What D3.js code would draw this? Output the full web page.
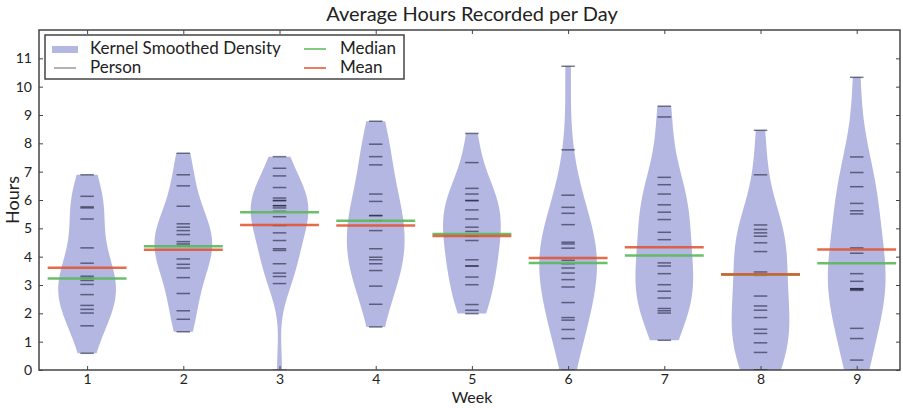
<!DOCTYPE html>
<html>
<head>
<meta charset="utf-8">
<script src="https://cdn.jsdelivr.net/npm/d3@7"></script>
<style>
  body { margin: 0; background: #fff; }
  text { font-family: Lato, "DejaVu Sans", sans-serif; fill: #222; }
</style>
</head>
<body>
<svg width="903" height="408"></svg>
<script>
// hours per person
var week1 = [6.89, 6.13, 5.76, 5.72, 5.33, 4.31, 3.77, 3.31, 3.24, 3.16, 3.02, 2.66, 2.28, 2.14, 2.01, 1.56, 0.59];
var week2 = [7.65, 6.89, 6.50, 5.78, 5.16, 5.04, 4.92, 4.78, 4.53, 4.45, 4.39, 3.92, 3.73, 3.60, 3.26, 2.70, 2.09, 1.79, 1.35];
var week3 = [7.53, 7.12, 6.85, 6.44, 6.07, 5.98, 5.98, 5.80, 5.80, 5.72, 5.60, 5.41, 5.10, 4.84, 4.57, 4.28, 4.22, 3.75, 3.42, 3.30, 3.05, 0.0];
var week4 = [8.78, 7.97, 7.53, 7.24, 6.21, 5.95, 5.45, 5.45, 5.27, 4.92, 4.28, 3.98, 3.89, 3.75, 3.51, 2.96, 2.32, 1.52];
var week5 = [8.35, 7.32, 6.41, 6.21, 5.98, 5.98, 5.65, 5.33, 5.04, 4.89, 4.72, 4.57, 3.89, 3.67, 3.67, 3.28, 3.01, 2.31, 2.11, 1.99];
var week6 = [10.72, 7.77, 6.17, 5.74, 5.53, 5.13, 4.51, 4.45, 4.30, 3.87, 3.75, 3.60, 3.42, 3.19, 2.93, 2.38, 1.85, 1.76, 1.43, 1.11, 0.0];
var week7 = [9.31, 8.93, 6.80, 6.54, 6.21, 5.83, 5.57, 5.31, 4.86, 4.60, 3.78, 3.67, 3.40, 3.01, 2.78, 2.54, 2.17, 2.09, 2.01, 1.05];
var week8 = [8.46, 6.89, 5.12, 4.96, 4.84, 4.72, 4.49, 4.18, 3.46, 3.34, 2.61, 2.26, 2.11, 1.85, 1.44, 1.29, 0.96, 0.62, 0.0, 0.0, 0.0];
var week9 = [10.33, 7.52, 6.97, 6.47, 5.88, 5.62, 5.51, 4.31, 4.12, 3.40, 3.13, 2.87, 2.87, 2.85, 2.81, 1.47, 1.11, 0.35, 0.0];

var weeks = [1, 2, 3, 4, 5, 6, 7, 8, 9];
var persons = [week1, week2, week3, week4, week5, week6, week7, week8, week9];
var medians = [3.23, 4.37, 5.57, 5.27, 4.80, 3.78, 4.04, 3.36, 3.77];
var means = [3.61, 4.24, 5.12, 5.10, 4.73, 3.95, 4.33, 3.38, 4.25];
var yTicks = [0, 1, 2, 3, 4, 5, 6, 7, 8, 9, 10, 11];

var svg = d3.select("svg"),
	plotLeft = 39, plotRight = 900, plotTop = 30, plotBottom = 370;

var x = d3.scaleLinear().domain([0.5, 9.45]).range([plotLeft, plotRight]);
var y = d3.scaleLinear().domain([0, 12]).range([plotBottom, plotTop]);

var violinFill = "#b3b7e2",
	medianColor = "#5cb85a",
	meanColor = "#e2512c";

svg.append("clipPath").attr("id", "plotclip")
	.append("rect")
	.attr("x", plotLeft).attr("y", plotTop)
	.attr("width", plotRight - plotLeft).attr("height", plotBottom - plotTop);

var plot = svg.append("g").attr("clip-path", "url(#plotclip)");

// gaussian kde (scott's rule), cut at data min / max
function kdeProfile(data) {
	var n = data.length,
		sd = d3.deviation(data),
		bw = sd * Math.pow(n, -0.2),
		lo = d3.min(data), hi = d3.max(data),
		pts = [];
	for (var i = 0; i < 100; i++) {
		var v = lo + (hi - lo) * i / 99;
		var dens = d3.sum(data, function (d) {
			var z = (v - d) / bw;
			return Math.exp(-0.5 * z * z);
		}) / (n * bw * Math.sqrt(2 * Math.PI));
		pts.push([v, dens]);
	}
	var mx = d3.max(pts, function (p) { return p[1]; });
	pts.forEach(function (p) { p[1] = 0.3 * p[1] / mx; });
	return pts;
}

weeks.forEach(function (w, i) {
	var prof = kdeProfile(persons[i]);
	var area = d3.area()
		.y(function (p) { return y(p[0]); })
		.x0(function (p) { return x(w - p[1]); })
		.x1(function (p) { return x(w + p[1]); });
	plot.append("path")
		.datum(prof)
		.attr("d", area)
		.attr("fill", violinFill)
		.attr("stroke", "none");

	plot.selectAll(".person" + w)
		.data(persons[i])
		.enter()
		.append("line")
		.attr("x1", x(w - 0.07))
		.attr("x2", x(w + 0.07))
		.attr("y1", function (d) { return y(d); })
		.attr("y2", function (d) { return y(d); })
		.attr("stroke", "#1e2238")
		.attr("stroke-opacity", 0.6)
		.attr("stroke-width", 1.5);
});

plot.selectAll(".median")
	.data(medians)
	.enter()
	.append("line")
	.attr("x1", function (d, i) { return x(weeks[i] - 0.41); })
	.attr("x2", function (d, i) { return x(weeks[i] + 0.41); })
	.attr("y1", function (d) { return y(d); })
	.attr("y2", function (d) { return y(d); })
	.attr("stroke", medianColor)
	.attr("stroke-width", 2.5)
	.attr("stroke-opacity", 0.9);

plot.selectAll(".mean")
	.data(means)
	.enter()
	.append("line")
	.attr("x1", function (d, i) { return x(weeks[i] - 0.41); })
	.attr("x2", function (d, i) { return x(weeks[i] + 0.41); })
	.attr("y1", function (d) { return y(d); })
	.attr("y2", function (d) { return y(d); })
	.attr("stroke", meanColor)
	.attr("stroke-width", 2.5)
	.attr("stroke-opacity", 0.85);

// axes, ticks inside on all four sides
var axisColor = "#444";
svg.append("g")
	.attr("transform", "translate(" + plotLeft + ",0)")
	.call(d3.axisLeft(y).tickValues(yTicks).tickSize(-4).tickPadding(7))
	.call(function (g) { g.select(".domain").remove(); })
	.call(function (g) { g.selectAll("line").attr("stroke", axisColor); })
	.call(function (g) { g.selectAll("text").attr("font-size", 14).attr("font-family", "Lato"); });

svg.append("g")
	.attr("transform", "translate(" + plotRight + ",0)")
	.call(d3.axisRight(y).tickValues(yTicks).tickSize(-4).tickFormat(""))
	.call(function (g) { g.select(".domain").remove(); })
	.call(function (g) { g.selectAll("line").attr("stroke", axisColor); });

svg.append("g")
	.attr("transform", "translate(0," + plotBottom + ")")
	.call(d3.axisBottom(x).tickValues(weeks).tickSize(-4).tickPadding(4).tickFormat(d3.format("d")))
	.call(function (g) { g.select(".domain").remove(); })
	.call(function (g) { g.selectAll("line").attr("stroke", axisColor); })
	.call(function (g) { g.selectAll("text").attr("font-size", 14).attr("font-family", "Lato"); });

svg.append("g")
	.attr("transform", "translate(0," + plotTop + ")")
	.call(d3.axisTop(x).tickValues(weeks).tickSize(-4).tickFormat(""))
	.call(function (g) { g.select(".domain").remove(); })
	.call(function (g) { g.selectAll("line").attr("stroke", axisColor); });

svg.append("rect")
	.attr("x", plotLeft).attr("y", plotTop)
	.attr("width", plotRight - plotLeft).attr("height", plotBottom - plotTop)
	.attr("fill", "none")
	.attr("stroke", axisColor)
	.attr("stroke-width", 1.5);

// titles
svg.append("text")
	.attr("x", 472).attr("y", 21)
	.attr("text-anchor", "middle")
	.attr("font-size", 20)
	.text("Average Hours Recorded per Day");

svg.append("text")
	.attr("x", 472).attr("y", 403)
	.attr("text-anchor", "middle")
	.attr("font-size", 16)
	.text("Week");

svg.append("text")
	.attr("transform", "translate(19," + (plotTop + plotBottom) / 2 + ") rotate(-90)")
	.attr("text-anchor", "middle")
	.attr("font-size", 18)
	.text("Hours");

// legend
var legend = svg.append("g");
legend.append("rect")
	.attr("x", 45).attr("y", 35).attr("width", 359).attr("height", 44)
	.attr("fill", "#fff").attr("stroke", axisColor).attr("stroke-width", 1.5);

var legendItems = [
	{label: "Kernel Smoothed Density", kind: "patch", color: violinFill, lx: 52, ly: 49},
	{label: "Person", kind: "line", color: "#999", lx: 52, ly: 68},
	{label: "Median", kind: "line", color: medianColor, lx: 302, ly: 49},
	{label: "Mean", kind: "line", color: meanColor, lx: 302, ly: 68}
];

legendItems.forEach(function (d) {
	if (d.kind == "patch") {
		legend.append("rect")
			.attr("x", d.lx).attr("y", d.ly - 3).attr("width", 26).attr("height", 7)
			.attr("fill", d.color);
	} else {
		legend.append("line")
			.attr("x1", d.lx + 2).attr("x2", d.lx + 24)
			.attr("y1", d.ly).attr("y2", d.ly)
			.attr("stroke", d.color).attr("stroke-width", 1.5);
	}
	legend.append("text")
		.attr("x", d.lx + 38).attr("y", d.ly + 5)
		.attr("font-size", 17)
		.text(d.label);
});
</script>
</body>
</html>
